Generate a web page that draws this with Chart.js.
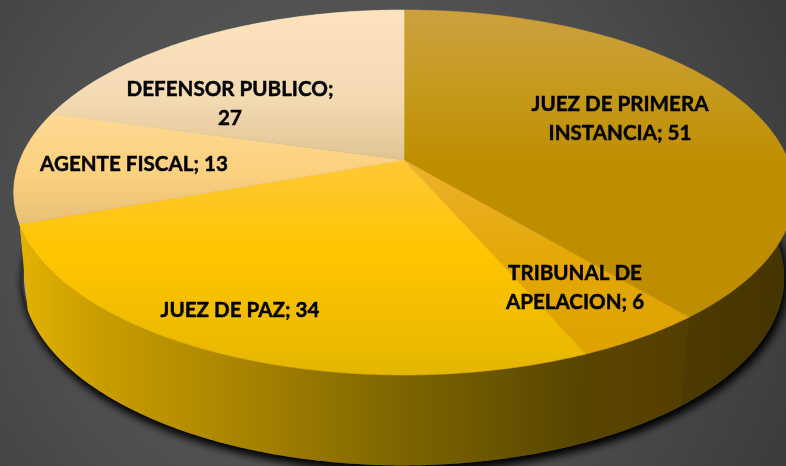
<!DOCTYPE html>
<html><head><meta charset="utf-8">
<style>
html,body{margin:0;padding:0;width:786px;height:466px;overflow:hidden;background:radial-gradient(circle 500px at 330px 230px,#5e5e5e 0%,#4e4e4e 60%,#3c3c3c 100%);}
#wrap{position:absolute;left:0;top:0;width:786px;height:466px;}
</style>
<script src="https://cdn.jsdelivr.net/npm/chart.js@4/dist/chart.umd.min.js"></script>
</head><body><div id="wrap"><canvas id="c" width="786" height="466"></canvas></div>
<script>
const categories = ["JUEZ DE PRIMERA INSTANCIA","TRIBUNAL DE APELACION","JUEZ DE PAZ","AGENTE FISCAL","DEFENSOR PUBLICO"];
const values = [51,6,34,13,27];
const baseColors = ["#BF8D00","#E0A400","#FFC600","#FFD27F","#FFE2BA"];

// face shading per slice: [offset along y 0..466, colour]
const faceStops = [
  [[10,"#CCA03F"],[90,"#C59A1C"],[165,"#BF8D00"],[466,"#BF8D00"]],
  [[165,"#ECB12C"],[260,"#E4A806"],[356,"#DDA200"]],
  [[165,"#FFC833"],[255,"#FFC500"],[375,"#E5B600"]],
  [[110,"#FFDA95"],[175,"#FBD07E"],[225,"#E6C078"]],
  [[10,"#FEE3BE"],[100,"#F3DAB1"],[160,"#DFC493"]]
];
const wallStops = [
  [[690,"#4C3A00"],[790,"#463400"]],
  [[583,"#5A4500"],[690,"#533E00"]],
  [[20,"#E3B200"],[100,"#C99D00"],[260,"#A48100"],[400,"#7E6500"],[583,"#574500"]],
  [[10,"#B5A58A"],[40,"#B5A58A"]],
  [[10,"#B5A58A"],[400,"#B5A58A"]]
];
const labelWrap = [190,145,220,220,220];
const labelCenters = [[620,104],[575,273],[240,310],[134,164],[230,89]];

const topRim = {cx:404,cy:160,rx:384,ry:176.7,p:0.178};
const lowRim = {cx:403,cy:244,rx:375,ry:182,p:0.178};
const lowRimBack = {cx:403,cy:244,rx:373,ry:182,p:0.178};
function rim(g,t){ // t: clockwise from 12 o'clock
  const u=Math.sin(t),v=Math.cos(t),w=1+g.p*v;
  return [g.cx+g.rx*u/w,g.cy-g.ry*v/w];
}
function grad(ctx,stops,horizontal){
  const a=stops[0][0],b=stops[stops.length-1][0];
  const g=horizontal?ctx.createLinearGradient(a,0,b,0):ctx.createLinearGradient(0,a,0,b);
  stops.forEach(s=>g.addColorStop((s[0]-a)/(b-a),s[1]));
  return g;
}
function trace(ctx,g,a,b,move){
  const n=Math.max(2,Math.ceil(Math.abs(b-a)/0.01));
  for(let i=0;i<=n;i++){
    const p=rim(g,a+(b-a)*i/n);
    if(i===0&&move)ctx.moveTo(p[0],p[1]);else ctx.lineTo(p[0],p[1]);
  }
}
const tiltedPie = {
  id:'tiltedPie',
  beforeDatasetsDraw(chart){
    const ctx=chart.ctx, arcs=chart.getDatasetMeta(0).data;
    const span=arcs.map(a=>[a.startAngle+Math.PI/2,a.endAngle+Math.PI/2]);
    ctx.save();
    // cast shadow of the solid
    ctx.save();
    ctx.shadowColor='rgba(0,0,0,0.9)';ctx.shadowBlur=10;ctx.shadowOffsetY=4;ctx.shadowOffsetX=2;
    ctx.fillStyle='#3a3a3a';
    [0,1].forEach(()=>{ctx.beginPath();trace(ctx,lowRim,0,Math.PI*2,true);ctx.closePath();ctx.fill();});
    ctx.restore();
    // side walls, far slices first
    [4,3,0,1,2].forEach(i=>{
      const s=span[i];
      ctx.fillStyle=grad(ctx,wallStops[i],true);
      ctx.beginPath();
      trace(ctx,topRim,s[0],s[1],true);
      trace(ctx,i>2?lowRimBack:lowRim,s[1],s[0],false);
      ctx.closePath();ctx.fill();
    });
    // top faces
    arcs.forEach((a,i)=>{
      const s=span[i];
      ctx.fillStyle=grad(ctx,faceStops[i],false);
      ctx.strokeStyle=ctx.fillStyle;ctx.lineWidth=0.6;
      ctx.beginPath();
      ctx.moveTo(topRim.cx,topRim.cy);
      trace(ctx,topRim,s[0],s[1],false);
      ctx.closePath();ctx.fill();ctx.stroke();
    });
    ctx.restore();
    return false;
  },
  afterDraw(chart){
    const ctx=chart.ctx;
    ctx.save();
    ctx.font='bold 20.6px Lato';
    ctx.fillStyle='#000';ctx.strokeStyle='#000';ctx.lineWidth=0.45;ctx.lineJoin='round';
    ctx.textAlign='center';ctx.textBaseline='middle';
    categories.forEach((c,i)=>{
      const words=(c+'; '+values[i]).split(' '),lines=[];let line='';
      words.forEach(w=>{
        const t=line?line+' '+w:w;
        if(ctx.measureText(t).width>labelWrap[i]&&line){lines.push(line);line=w;}else line=t;
      });
      lines.push(line);
      lines.forEach((l,j)=>{
        const y=labelCenters[i][1]+j*29.5;
        ctx.fillText(l,labelCenters[i][0],y);
        ctx.strokeText(l,labelCenters[i][0],y);
      });
    });
    ctx.restore();
  }
};
new Chart(document.getElementById('c'),{
  type:'pie',
  data:{labels:categories,datasets:[{data:values,backgroundColor:baseColors,borderWidth:0}]},
  options:{responsive:false,animation:false,rotation:0,
    plugins:{legend:{display:false},tooltip:{enabled:false}}},
  plugins:[tiltedPie]
});
</script></body></html>
